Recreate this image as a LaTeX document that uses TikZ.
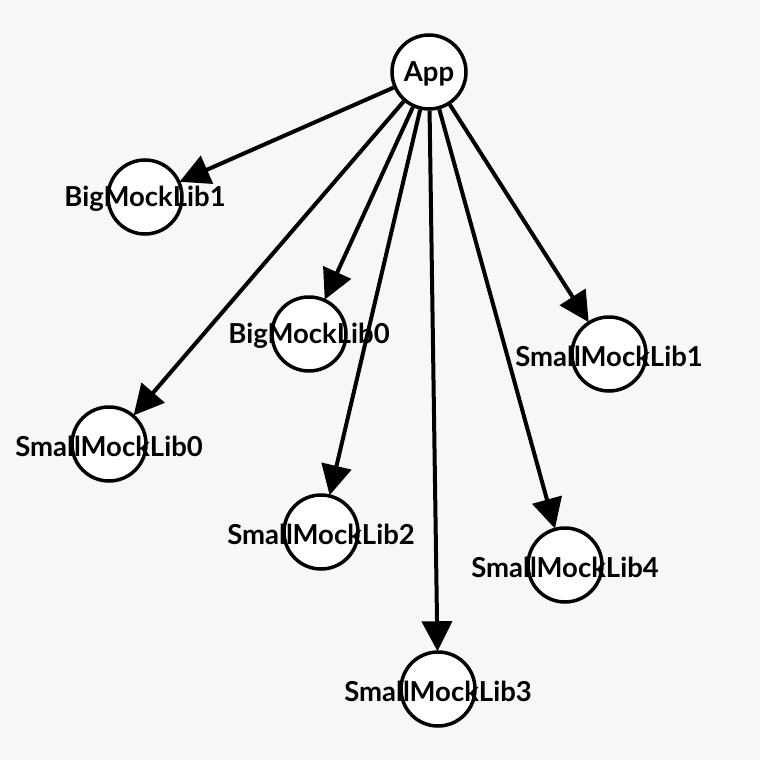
\documentclass[tikz,border=0pt]{standalone}
\usepackage{fontspec}
\setmainfont{Lato}
\usetikzlibrary{arrows.meta}
\definecolor{bg}{HTML}{F7F7F7}
\tikzset{
  lib/.style={circle,draw=black,fill=white,line width=3.5pt,minimum size=74pt,inner sep=0pt},
  libname/.style={font=\fontsize{27.5}{28}\selectfont\bfseries,yshift=-2pt},
  dep/.style={line width=4pt,-{Triangle[length=30pt,width=30pt]},shorten >=-1pt}
}
\begin{document}
\begin{tikzpicture}[x=1pt,y=-1pt]
\fill[bg] (0,0) rectangle (760,760);
\useasboundingbox (0,0) rectangle (760,760);
\node[lib] (app) at (429,72) {};
\node[lib] (big1) at (145,197) {};
\node[lib] (big0) at (309,334) {};
\node[lib] (small0) at (109,444) {};
\node[lib] (small1) at (609,354) {};
\node[lib] (small2) at (321,532) {};
\node[lib] (small4) at (565,565) {};
\node[lib] (small3) at (438,689) {};
\draw[dep] (app) -- (big1);
\draw[dep] (app) -- (big0);
\draw[dep] (app) -- (small0);
\draw[dep] (app) -- (small1);
\draw[dep] (app) -- (small2);
\draw[dep] (app) -- (small4);
\draw[dep] (app) -- (small3);
\node[libname] at (app) {App};
\node[libname] at (big1) {BigMockLib1};
\node[libname] at (big0) {BigMockLib0};
\node[libname] at (small0) {SmallMockLib0};
\node[libname] at (small1) {SmallMockLib1};
\node[libname] at (small2) {SmallMockLib2};
\node[libname] at (small4) {SmallMockLib4};
\node[libname] at (small3) {SmallMockLib3};
\end{tikzpicture}
\end{document}
